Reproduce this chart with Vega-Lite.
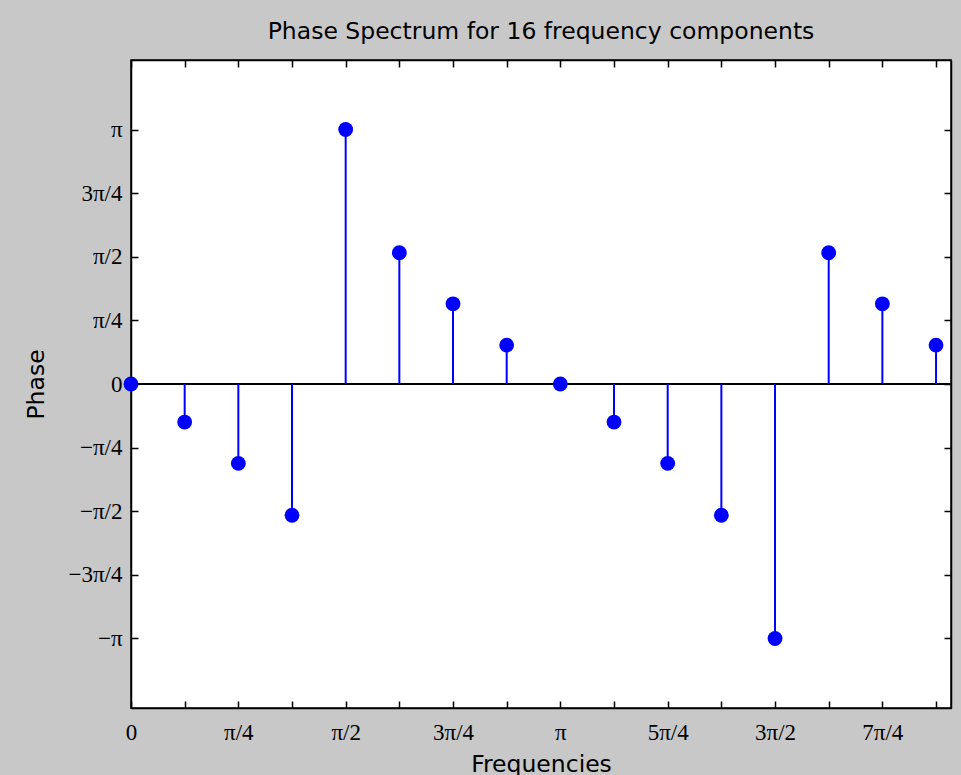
{
  "$schema": "https://vega.github.io/schema/vega-lite/v6.json",
  "width": 820,
  "height": 648,
  "autosize": {"type": "none"},
  "padding": {"left": 131, "top": 60, "right": 10, "bottom": 67},
  "background": "#c8c8c8",
  "title": {
    "text": "Phase Spectrum for 16 frequency components",
    "font": "DejaVu Sans",
    "fontSize": 23.5,
    "fontWeight": "normal",
    "color": "#000000",
    "anchor": "middle",
    "baseline": "alphabetic",
    "offset": -3
  },
  "config": {
    "view": {"fill": "white", "stroke": "black", "strokeWidth": 1.5},
    "axis": {
      "domainColor": "black",
      "domainWidth": 1.5,
      "tickColor": "black",
      "tickWidth": 1.5,
      "tickSize": -7,
      "grid": false,
      "labelFont": "Liberation Serif",
      "labelFontSize": 23,
      "labelColor": "black",
      "titleFont": "DejaVu Sans",
      "titleFontSize": 23.5,
      "titleFontWeight": "normal",
      "titleColor": "black",
      "labelOverlap": false,
      "labelBound": false,
      "labelFlush": false
    }
  },
  "data": {
    "values": [
      {"f": 0.0, "phase": 0.0},
      {"f": 0.3927, "phase": -0.47},
      {"f": 0.7854, "phase": -0.98},
      {"f": 1.1781, "phase": -1.62},
      {"f": 1.5708, "phase": 3.1416},
      {"f": 1.9635, "phase": 1.62},
      {"f": 2.3562, "phase": 0.99},
      {"f": 2.7489, "phase": 0.48},
      {"f": 3.1416, "phase": 0.0},
      {"f": 3.5343, "phase": -0.47},
      {"f": 3.927, "phase": -0.98},
      {"f": 4.3197, "phase": -1.62},
      {"f": 4.7124, "phase": -3.1416},
      {"f": 5.1051, "phase": 1.62},
      {"f": 5.4978, "phase": 0.99},
      {"f": 5.8905, "phase": 0.48}
    ]
  },
  "resolve": {"axis": {"x": "independent", "y": "independent"}},
  "layer": [
    {
      "mark": {"type": "rule", "color": "black", "strokeWidth": 2},
      "encoding": {
        "y": {"datum": 0, "type": "quantitative", "axis": null, "scale": {"domain": [-4, 4], "nice": false, "zero": false}}
      }
    },
    {
      "mark": {"type": "rule", "color": "#0000ff", "strokeWidth": 2},
      "encoding": {
        "x": {
          "field": "f", "type": "quantitative",
          "scale": {"domain": [0, 6], "nice": false, "zero": false},
          "axis": {
            "orient": "bottom",
            "title": "Frequencies",
            "values": [0, 0.3927, 0.7854, 1.1781, 1.5708, 1.9635, 2.3562, 2.7489, 3.1416, 3.5343, 3.927, 4.3197, 4.7124, 5.1051, 5.4978, 5.8905],
            "labelExpr": "['0','','π/4','','π/2','','3π/4','','π','','5π/4','','3π/2','','7π/4',''][round(datum.value*8/PI)]",
            "labelPadding": 20,
            "titlePadding": 8
          }
        },
        "y": {
          "field": "phase", "type": "quantitative",
          "scale": {"domain": [-4, 4], "nice": false, "zero": false},
          "axis": {
            "orient": "left",
            "title": "Phase",
            "values": [-3.14159, -2.35619, -1.5708, -0.7854, 0, 0.7854, 1.5708, 2.35619, 3.14159],
            "labelExpr": "['−π','−3π/4','−π/2','−π/4','0','π/4','π/2','3π/4','π'][round(datum.value*4/PI)+4]",
            "labelPadding": 16,
            "titlePadding": 20
          }
        },
        "y2": {"datum": 0}
      }
    },
    {
      "mark": {"type": "point", "filled": true, "color": "#0000ff", "opacity": 1, "size": 220, "shape": "circle"},
      "encoding": {
        "x": {
          "field": "f", "type": "quantitative",
          "axis": {
            "orient": "top",
            "title": null,
            "labels": false,
            "values": [0, 0.3927, 0.7854, 1.1781, 1.5708, 1.9635, 2.3562, 2.7489, 3.1416, 3.5343, 3.927, 4.3197, 4.7124, 5.1051, 5.4978, 5.8905]
          }
        },
        "y": {
          "field": "phase", "type": "quantitative",
          "axis": {
            "orient": "right",
            "title": null,
            "labels": false,
            "values": [-3.14159, -2.35619, -1.5708, -0.7854, 0, 0.7854, 1.5708, 2.35619, 3.14159]
          }
        }
      }
    }
  ]
}
